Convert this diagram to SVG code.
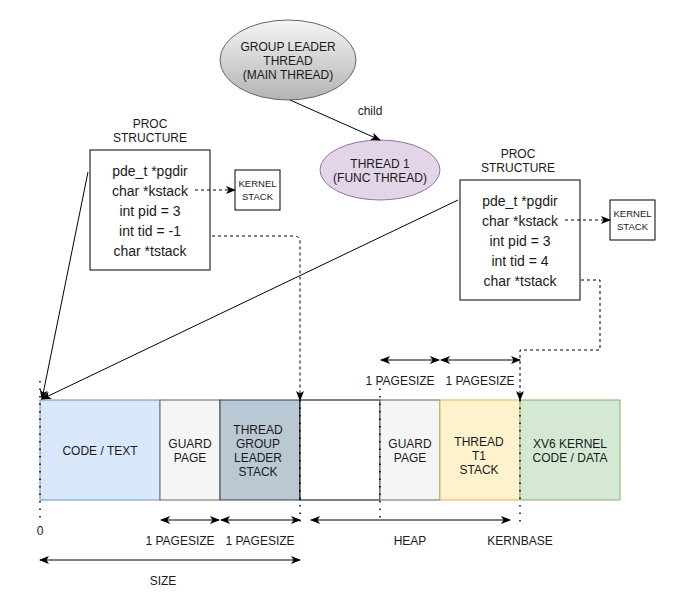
<svg xmlns="http://www.w3.org/2000/svg" width="694" height="611" viewBox="0 0 694 611">
<defs>
<linearGradient id="g" x1="0" y1="0" x2="0" y2="1"><stop offset="0" stop-color="#f5f5f5"/><stop offset="1" stop-color="#b3b3b3"/></linearGradient>
<marker id="a" viewBox="0 0 10 10" refX="9" refY="5" markerWidth="10" markerHeight="10" markerUnits="userSpaceOnUse" orient="auto-start-reverse"><path d="M0,1 L10,5 L0,9 L2.5,5 z" fill="#000"/></marker>
</defs>
<style>
text{font-family:"Liberation Sans",Arial,sans-serif;font-size:12px;fill:#1a1a1a;text-anchor:middle}
.f{font-size:14px}
.k{font-size:9.5px}
.ln{fill:none;stroke:#000;stroke-width:1}
.ds{fill:none;stroke:#000;stroke-width:1;stroke-dasharray:3 3}
.dt{fill:none;stroke:#000;stroke-width:1.5;stroke-dasharray:1.5 6}
</style>
<rect width="694" height="611" fill="#fff"/>

<g id="leader"><ellipse cx="288" cy="60" rx="68" ry="40" fill="url(#g)" stroke="#666"/>
<text x="288" y="51">GROUP LEADER</text><text x="288" y="65">THREAD</text><text x="288" y="79">(MAIN THREAD)</text></g>
<g id="thread1"><ellipse cx="380" cy="170" rx="60" ry="30" fill="#e1d5e7" stroke="#9673a6"/>
<text x="380" y="168">THREAD 1</text><text x="380" y="182">(FUNC THREAD)</text></g>

<g id="proc1"><text x="150" y="128">PROC</text><text x="150" y="142">STRUCTURE</text>
<rect x="90" y="150" width="120" height="120" fill="#fff" stroke="#000"/>
<text class="f" x="150" y="176">pde_t *pgdir</text><text class="f" x="150" y="196">char *kstack</text><text class="f" x="150" y="216">int pid = 3</text><text class="f" x="150" y="236">int tid = -1</text><text class="f" x="150" y="256">char *tstack</text></g>
<g id="kstack1"><rect x="235" y="170" width="45" height="40" fill="#fff" stroke="#000"/><text class="k" x="257.5" y="187">KERNEL</text><text class="k" x="257.5" y="200">STACK</text></g>

<g id="proc2"><text x="518" y="158">PROC</text><text x="518" y="172">STRUCTURE</text>
<rect x="460" y="180" width="120" height="120" fill="#fff" stroke="#000"/>
<text class="f" x="520" y="206">pde_t *pgdir</text><text class="f" x="520" y="226">char *kstack</text><text class="f" x="520" y="246">int pid = 3</text><text class="f" x="520" y="266">int tid = 4</text><text class="f" x="520" y="286">char *tstack</text></g>
<g id="kstack2"><rect x="610" y="200" width="45" height="40" fill="#fff" stroke="#000"/><text class="k" x="632.5" y="217">KERNEL</text><text class="k" x="632.5" y="230">STACK</text></g>

<g id="memory">
<g id="code"><rect x="40" y="400" width="120" height="100" fill="#dae8fc" stroke="#6c8ebf"/><text x="100" y="455">CODE / TEXT</text></g>
<g id="guard1"><rect x="160" y="400" width="60" height="100" fill="#f5f5f5" stroke="#666"/><text x="190" y="448">GUARD</text><text x="190" y="462">PAGE</text></g>
<g id="leaderstack"><rect x="220" y="400" width="80" height="100" fill="#bac8d3" stroke="#23445d"/><text x="258" y="434">THREAD</text><text x="258" y="448">GROUP</text><text x="258" y="462">LEADER</text><text x="258" y="476">STACK</text></g>
<g id="heap"><rect x="300" y="400" width="80" height="100" fill="#fff" stroke="#000"/></g>
<g id="guard2"><rect x="380" y="400" width="60" height="100" fill="#f5f5f5" stroke="#666"/><text x="410" y="448">GUARD</text><text x="410" y="462">PAGE</text></g>
<g id="t1stack"><rect x="440" y="400" width="80" height="100" fill="#fff2cc" stroke="#d6b656"/><text x="479" y="446">THREAD</text><text x="479" y="460">T1</text><text x="479" y="474">STACK</text></g>
<g id="kernel"><rect x="520" y="400" width="100" height="100" fill="#d5e8d4" stroke="#82b366"/><text x="570" y="448">XV6 KERNEL</text><text x="570" y="462">CODE / DATA</text></g>
</g>

<g id="connectors">
<path class="dt" d="M40,381 V522"/>
<path class="dt" d="M300,400 V522"/>
<path class="dt" d="M380,381 V522"/>
<path class="dt" d="M520,400 V522"/>
<path class="ln" d="M290,100 L380,140" marker-end="url(#a)"/>
<path class="ln" d="M88,172 L42,399" marker-end="url(#a)"/>
<path class="ln" d="M458,200 L42,399" marker-end="url(#a)"/>
<path class="ds" d="M195,190 H235" marker-end="url(#a)"/>
<path class="ds" d="M565,220 H610" marker-end="url(#a)"/>
<path class="ds" d="M212,236 H294 Q300,236 300,242 V400" marker-end="url(#a)"/>
<path class="ds" d="M581,280 H600 V350 H520 V400" marker-end="url(#a)"/>
<path class="ln" d="M161,520 H219" marker-start="url(#a)" marker-end="url(#a)"/>
<path class="ln" d="M221,520 H300" marker-start="url(#a)" marker-end="url(#a)"/>
<path class="ln" d="M311,520 H510" marker-start="url(#a)" marker-end="url(#a)"/>
<path class="ln" d="M40,560 H300" marker-start="url(#a)" marker-end="url(#a)"/>
<path class="ln" d="M381,360 H439" marker-start="url(#a)" marker-end="url(#a)"/>
<path class="ln" d="M441,360 H520" marker-start="url(#a)" marker-end="url(#a)"/>
</g>

<g id="labels">
<text x="370" y="115">child</text>
<text x="40" y="535">0</text>
<text x="180" y="545">1 PAGESIZE</text>
<text x="260" y="545">1 PAGESIZE</text>
<text x="410" y="545">HEAP</text>
<text x="520" y="545">KERNBASE</text>
<text x="163" y="585">SIZE</text>
<text x="400" y="385">1 PAGESIZE</text>
<text x="480" y="385">1 PAGESIZE</text>
</g>
</svg>
